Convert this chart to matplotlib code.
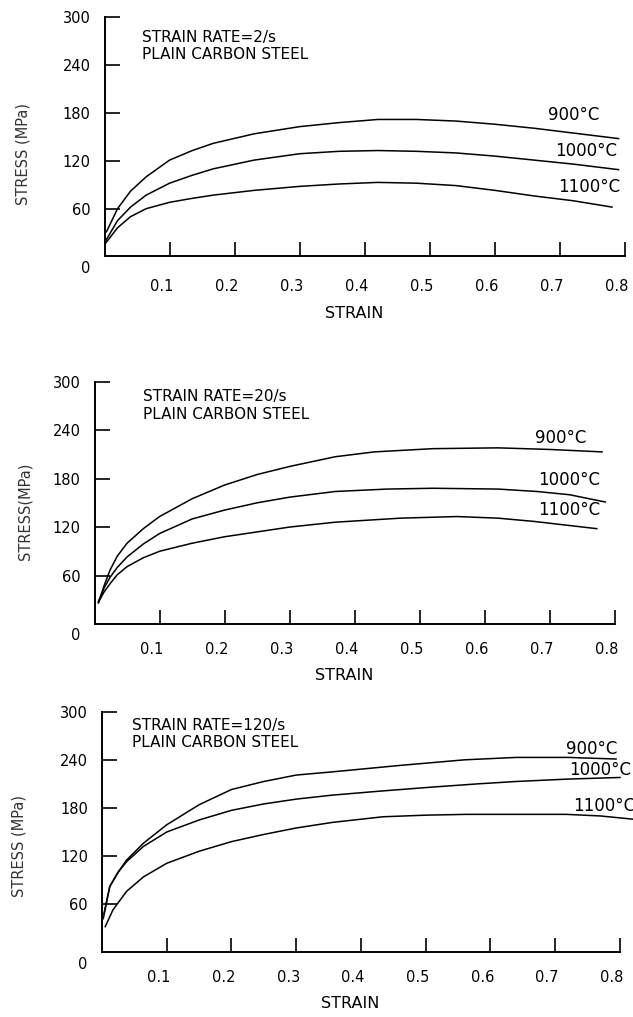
import matplotlib.pyplot as plt
from matplotlib.transforms import ScaledTranslation

# flow curves of plain carbon steel at three strain rates
temps = ["900°C", "1000°C", "1100°C"]
rates = ["2/s", "20/s", "120/s"]

# strain rate 2/s
s2_900 = [0.003, 0.02, 0.04, 0.064, 0.10, 0.135, 0.167, 0.23, 0.30, 0.36, 0.42, 0.48, 0.54, 0.60, 0.66, 0.72, 0.79]
v2_900 = [31, 60, 82, 100, 121, 133, 142, 154, 163, 168, 172, 172, 170, 166, 161, 155, 148]
s2_1000 = [0.002, 0.02, 0.04, 0.064, 0.10, 0.135, 0.167, 0.23, 0.30, 0.36, 0.42, 0.48, 0.54, 0.60, 0.66, 0.72, 0.79]
v2_1000 = [20, 45, 62, 77, 92, 102, 110, 121, 129, 132, 133, 132, 130, 126, 121, 116, 109]
s2_1100 = [0.002, 0.02, 0.04, 0.064, 0.10, 0.135, 0.167, 0.23, 0.30, 0.36, 0.42, 0.48, 0.54, 0.60, 0.66, 0.72, 0.78]
v2_1100 = [17, 36, 50, 60, 68, 73, 77, 83, 88, 91, 93, 92, 89, 83, 76, 70, 62]

# strain rate 20/s
s20_900 = [0.006, 0.015, 0.024, 0.035, 0.05, 0.075, 0.10, 0.15, 0.20, 0.25, 0.30, 0.37, 0.43, 0.52, 0.62, 0.70, 0.78]
v20_900 = [26, 48, 67, 84, 100, 118, 133, 155, 172, 185, 195, 207, 213, 217, 218, 216, 213]
s20_1000 = [0.006, 0.015, 0.024, 0.035, 0.05, 0.075, 0.10, 0.15, 0.20, 0.25, 0.30, 0.37, 0.45, 0.52, 0.62, 0.68, 0.73, 0.785]
v20_1000 = [28, 45, 58, 70, 83, 99, 112, 130, 141, 150, 157, 164, 167, 168, 167, 164, 160, 151]
s20_1100 = [0.006, 0.015, 0.024, 0.035, 0.05, 0.075, 0.10, 0.15, 0.20, 0.25, 0.30, 0.37, 0.47, 0.557, 0.62, 0.675, 0.772]
v20_1100 = [27, 40, 50, 61, 71, 82, 90, 100, 108, 114, 120, 126, 131, 133, 131, 127, 118]

# strain rate 120/s
s120_900 = [0.002, 0.012, 0.025, 0.038, 0.064, 0.10, 0.15, 0.20, 0.25, 0.30, 0.356, 0.46, 0.56, 0.64, 0.72, 0.794]
v120_900 = [42, 82, 100, 115, 136, 159, 184, 203, 213, 221, 225, 233, 240, 243, 243, 241]
s120_1000 = [0.003, 0.012, 0.025, 0.038, 0.064, 0.10, 0.15, 0.20, 0.25, 0.30, 0.356, 0.43, 0.51, 0.58, 0.64, 0.72, 0.80]
v120_1000 = [48, 82, 100, 113, 132, 150, 165, 177, 185, 191, 196, 201, 206, 210, 213, 216, 218]
s120_1100 = [0.005, 0.017, 0.038, 0.064, 0.10, 0.15, 0.20, 0.25, 0.30, 0.356, 0.434, 0.50, 0.562, 0.64, 0.717, 0.77, 0.82]
v120_1100 = [32, 53, 76, 94, 111, 126, 138, 147, 155, 162, 169, 171, 172, 172, 172, 170, 166]

curves = [
    [(s2_900, v2_900), (s2_1000, v2_1000), (s2_1100, v2_1100)],
    [(s20_900, v20_900), (s20_1000, v20_1000), (s20_1100, v20_1100)],
    [(s120_900, v120_900), (s120_1000, v120_1000), (s120_1100, v120_1100)],
]

# where the temperature labels sit (strain, stress)
label_pos = [
    [(0.682, 178), (0.692, 133), (0.697, 87)],
    [(0.677, 230), (0.682, 178), (0.682, 141)],
    [(0.716, 253), (0.722, 227), (0.727, 182)],
]
title_pos = [(0.057, 275, 253), (0.075, 281, 259), (0.046, 283, 261)]
ylabels = ["STRESS (MPa)", "STRESS(MPa)", "STRESS (MPa)"]

# axes boxes in figure fractions
boxes = [
    [0.1651, 0.7478, 0.8223, 0.2350],
    [0.1493, 0.3864, 0.8223, 0.2384],
    [0.1611, 0.0636, 0.8183, 0.2366],
]
ylab_x = [-0.143, -0.120, -0.145]
ylab_y = [0.43, 0.466, 0.44]
xlab_y = [-0.207, -0.181, -0.182]
xpad = [16, 13, 13]

xticks = [0.1, 0.2, 0.3, 0.4, 0.5, 0.6, 0.7, 0.8]
yticks = [60, 120, 180, 240, 300]

fig = plt.figure(figsize=(6.33, 10.17), dpi=100)
# strain numbers sit a little left of their ticks
shift = ScaledTranslation(-0.08, 0, fig.dpi_scale_trans)

for i in range(3):
    ax = fig.add_axes(boxes[i])
    for (s, v) in curves[i]:
        ax.plot(s, v, color="black", lw=1.1, clip_on=False)
    for t, (lx, ly) in zip(temps, label_pos[i]):
        ax.text(lx, ly, t, fontsize=12, ha="left", va="center")
    tx, ty1, ty2 = title_pos[i]
    ax.text(tx, ty1, "STRAIN RATE=" + rates[i], fontsize=11, ha="left", va="center")
    ax.text(tx, ty2, "PLAIN CARBON STEEL", fontsize=11, ha="left", va="center")

    ax.set_xlim(0, 0.8)
    ax.set_ylim(0, 300)
    ax.set_xticks(xticks)
    ax.set_xticklabels([str(x) for x in xticks])
    ax.set_yticks(yticks)
    ax.tick_params(axis="y", direction="in", length=11, width=1.2, pad=10, labelsize=10.5)
    ax.tick_params(axis="x", direction="in", length=10, width=1.2, pad=xpad[i], labelsize=10.5)
    for lab in ax.get_xticklabels():
        lab.set_transform(lab.get_transform() + shift)
    ax.annotate("0", xy=(0, 0), xycoords="data", xytext=(-10.5, -8.5),
                textcoords="offset points", ha="right", va="center", fontsize=10.5,
                annotation_clip=False)
    for side in ("top", "right"):
        ax.spines[side].set_visible(False)
    for side in ("left", "bottom"):
        ax.spines[side].set_linewidth(1.4)

    ax.set_ylabel(ylabels[i], fontsize=10.5, color="#333333")
    ax.yaxis.set_label_coords(ylab_x[i], ylab_y[i])
    ax.set_xlabel("STRAIN", fontsize=11.5)
    ax.xaxis.set_label_coords(0.48, xlab_y[i])
    ax.xaxis.label.set_va("top")

fig.savefig("out.png", dpi=100)
